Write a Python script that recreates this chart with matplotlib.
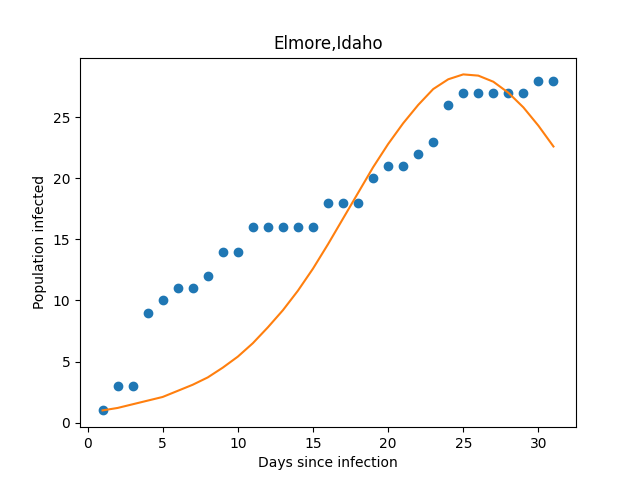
import matplotlib
matplotlib.use('Agg')
import matplotlib.pyplot as plt

days = list(range(1, 32))
infected = [1, 3, 3, 9, 10, 11, 11, 12, 14, 14, 16, 16, 16, 16, 16, 18, 18, 18,
            20, 21, 21, 22, 23, 26, 27, 27, 27, 27, 27, 28, 28]
fitted = [1.0, 1.2, 1.5, 1.8, 2.1, 2.6, 3.1, 3.7, 4.5, 5.4, 6.5, 7.8, 9.2, 10.8,
          12.6, 14.6, 16.7, 18.8, 20.9, 22.8, 24.5, 26.0, 27.3, 28.1, 28.5, 28.4,
          27.9, 27.0, 25.8, 24.3, 22.6]

fig = plt.figure(figsize=(6.4, 4.8), dpi=100)
plt.scatter(days, infected)
plt.plot(days, fitted, color='tab:orange')
plt.title('Elmore,Idaho')
plt.xlabel('Days since infection')
plt.ylabel('Population infected')
plt.savefig('out.png')
